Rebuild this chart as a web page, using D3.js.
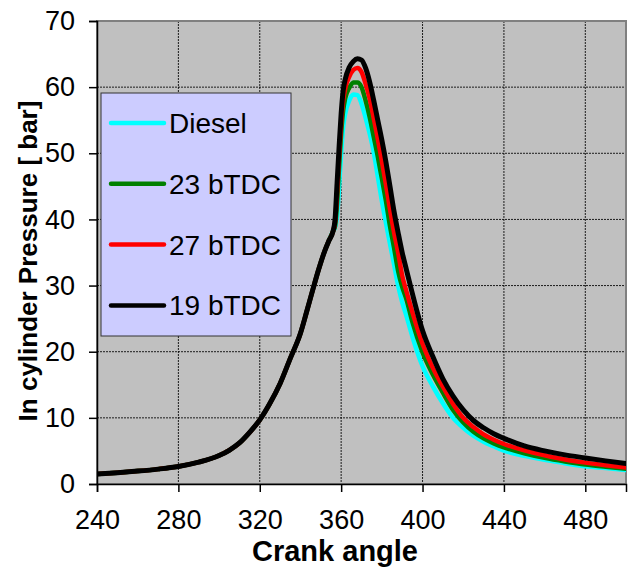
<!DOCTYPE html>
<html>
<head>
<meta charset="utf-8">
<script src="https://cdn.jsdelivr.net/npm/d3@7"></script>
<style>
  html, body { margin: 0; padding: 0; background: #fff; }
  svg { display: block; }
  text { font-family: "Liberation Sans", Arial, sans-serif; fill: #000; }
</style>
</head>
<body>
<svg id="chart" width="630" height="567"></svg>
<script>
// ---- Data ----
const angles = [240,250,260,270,280,290,300,305,310,315,320,325,330,335,340,343,346,349,352,354,356,
  357,358,359,360,361,362,364,366,368,370,372,374,376,378,380,382,384,386,388,390,392,395,
  400,405,410,415,420,425,430,435,440,450,460,470,480,490,500];

// common compression part (240..356)
const compression = [1.5,1.7,1.95,2.25,2.65,3.3,4.3,5.1,6.2,7.8,9.7,12.2,15.2,19.0,22.8,26.0,29.3,32.5,35.3,36.8,38.2];

// combustion / expansion part (357..500) per series
const dieselTail = [38.8,40.5,45.0,50.0,54.0,56.0,58.0,58.9,58.8,57.5,55.4,53.0,50.2,46.5,42.8,39.5,36.3,33.2,30.0,27.5,25.5,22.3,
  17.8,14.8,12.2,10.0,8.5,7.3,6.4,5.7,5.05,4.25,3.65,3.15,2.67,2.4,2.1];
const bTDC23Tail = [39.0,42.5,48.0,53.0,56.5,58.3,59.9,60.7,60.7,60.0,58.0,55.5,52.5,49.5,46.2,42.8,39.0,35.7,32.2,29.8,28.0,24.5,
  19.9,16.6,13.8,11.2,9.3,7.9,6.9,6.15,5.55,4.65,3.95,3.4,2.93,2.6,2.3];
const bTDC27Tail = [39.5,44.0,49.5,54.5,58.0,59.8,61.6,62.6,62.9,62.3,60.5,58.3,55.3,52.2,48.8,45.3,41.5,38.0,35.0,31.5,29.2,26.0,
  21.2,17.6,14.7,12.1,10.0,8.6,7.5,6.7,6.05,5.1,4.35,3.7,3.23,2.85,2.5];
const bTDC19Tail = [40.0,45.5,51.0,56.0,59.5,61.2,63.0,63.9,64.3,64.1,62.9,60.8,58.0,55.0,52.0,48.7,45.0,41.2,38.0,35.0,32.5,28.8,
  23.2,19.3,15.9,13.3,11.2,9.6,8.5,7.6,6.9,5.75,5.0,4.4,3.94,3.5,3.1];

const seriesNames = ["Diesel", "23 bTDC", "27 bTDC", "19 bTDC"];
const seriesColors = ["#00FFFF", "#008000", "#FF0000", "#000000"];
const seriesTails = [dieselTail, bTDC23Tail, bTDC27Tail, bTDC19Tail];

const xTicks = [240,280,320,360,400,440,480];
const yTicks = [0,10,20,30,40,50,60,70];
const xTitle = "Crank angle";
const yTitle = "In cylinder Pressure [ bar]";

// ---- Layout ----
const svg = d3.select("#chart");
const plot = {left: 97, right: 626, top: 21, bottom: 484};
const x = d3.scaleLinear().domain([240, 500]).range([plot.left, plot.right]);
const y = d3.scaleLinear().domain([0, 70]).range([plot.bottom, plot.top]);

// plot background
svg.append("rect")
  .attr("x", plot.left).attr("y", plot.top)
  .attr("width", plot.right - plot.left).attr("height", plot.bottom - plot.top)
  .attr("fill", "#C0C0C0");

// gridlines
const grid = svg.append("g");
grid.selectAll("line.v").data(xTicks.filter(d => d > 240)).join("line")
  .attr("x1", d => x(d)).attr("x2", d => x(d))
  .attr("y1", plot.top).attr("y2", plot.bottom)
  .attr("stroke", "#000").attr("stroke-width", 1).attr("stroke-dasharray", "2,1").attr("opacity", 0.85);
grid.selectAll("line.h").data(yTicks.filter(d => d > 0 && d < 70)).join("line")
  .attr("x1", plot.left).attr("x2", plot.right)
  .attr("y1", d => y(d)).attr("y2", d => y(d))
  .attr("stroke", "#000").attr("stroke-width", 1).attr("stroke-dasharray", "2,1").attr("opacity", 0.85);

// plot border
svg.append("rect")
  .attr("x", plot.left).attr("y", plot.top)
  .attr("width", plot.right - plot.left).attr("height", plot.bottom - plot.top)
  .attr("fill", "none").attr("stroke", "#808080").attr("stroke-width", 2);

// lines
const line = d3.line().x(d => x(d[0])).y(d => y(d[1])).curve(d3.curveMonotoneX);
const clip = svg.append("clipPath").attr("id", "clip").append("rect")
  .attr("x", plot.left).attr("y", plot.top - 5)
  .attr("width", plot.right - plot.left).attr("height", plot.bottom - plot.top + 5);
const linesG = svg.append("g").attr("clip-path", "url(#clip)");
seriesTails.forEach((tail, i) => {
  const vals = compression.concat(tail);
  const pts = angles.map((a, k) => [a, vals[k]]);
  linesG.append("path").datum(pts)
    .attr("d", line)
    .attr("fill", "none")
    .attr("stroke", seriesColors[i])
    .attr("stroke-width", i === 3 ? 5 : 4.5)
    .attr("stroke-linejoin", "round")
    .attr("stroke-linecap", "round");
});

// axes
const xAxis = d3.axisBottom(x).tickValues(xTicks).tickSize(8).tickPadding(18).tickFormat(d3.format("d"));
const yAxis = d3.axisLeft(y).tickValues(yTicks).tickSize(8).tickPadding(14).tickFormat(d3.format("d"));
const gx = svg.append("g").attr("transform", `translate(0,${plot.bottom})`).call(xAxis);
const gy = svg.append("g").attr("transform", `translate(${plot.left},0)`).call(yAxis);
[gx, gy].forEach(g => {
  g.select(".domain").attr("stroke", "#000").attr("stroke-width", 1.5);
  g.selectAll(".tick line").attr("stroke", "#000").attr("stroke-width", 1.5);
  g.selectAll(".tick text").attr("font-size", 27).attr("font-family", "Liberation Sans, Arial, sans-serif").attr("fill", "#000");
});

// axis titles
svg.append("text")
  .attr("x", 335).attr("y", 561)
  .attr("text-anchor", "middle")
  .attr("font-size", 29).attr("font-weight", "bold")
  .text(xTitle);
svg.append("text")
  .attr("transform", "translate(37,261) rotate(-90)")
  .attr("text-anchor", "middle")
  .attr("font-size", 26).attr("font-weight", "bold")
  .text(yTitle);

// legend
const leg = svg.append("g");
leg.append("rect")
  .attr("x", 101).attr("y", 93).attr("width", 190).attr("height", 243)
  .attr("fill", "#CCCCFF").attr("stroke", "#333").attr("stroke-width", 1);
seriesNames.forEach((name, i) => {
  const ly = 123 + i * 60.8;
  leg.append("line")
    .attr("x1", 111).attr("x2", 164).attr("y1", ly).attr("y2", ly)
    .attr("stroke", seriesColors[i]).attr("stroke-width", 4.5).attr("stroke-linecap", "round");
  leg.append("text")
    .attr("x", 169).attr("y", ly).attr("dy", "0.36em")
    .attr("font-size", 28)
    .text(name);
});
</script>
</body>
</html>
